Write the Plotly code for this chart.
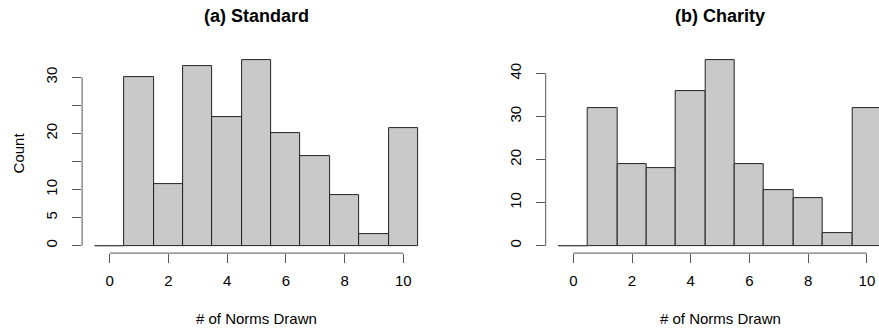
import plotly.graph_objects as go

# ---- data ----
bins = [0, 1, 2, 3, 4, 5, 6, 7, 8, 9, 10]
standard_counts = [0, 30, 11, 32, 23, 33, 20, 16, 9, 2, 21]
charity_counts = [0, 32, 19, 18, 36, 43, 19, 13, 11, 3, 32]
x_ticks = [0, 2, 4, 6, 8, 10]
std_yticks = [0, 5, 10, 15, 20, 25, 30]
std_yticklabels = ["0", "5", "10", "", "20", "", "30"]
cha_yticks = [0, 10, 20, 30, 40]
cha_yticklabels = ["0", "10", "20", "30", "40"]
titles = ["(a) Standard", "(b) Charity"]
xlabel = "# of Norms Drawn"
ylabel = "Count"

W, H = 879, 328
FONT = "Liberation Sans, Arial, Helvetica, sans-serif"
BAR_FILL = "#C9C9C9"
LINE_COL = "#222222"
AXIS_COL = "#555555"

# pixel layout of the two plot regions (R-style)
plot_top, plot_bot = 53.1, 253.1
left_px = [82.1, 430.9]
right_px = [545.7, 894.9]  # extends past the window; clipped


def yfrac(p):
    return 1 - p / H


xr_full = [bins[0] - 0.5 - 0.04 * (len(bins)), bins[-1] + 0.5 + 0.04 * (len(bins))]
ppu = (left_px[1] - left_px[0]) / (xr_full[1] - xr_full[0])

fig = go.Figure()

panels = [
    (standard_counts, std_yticks, std_yticklabels, left_px, "x", "y"),
    (charity_counts, cha_yticks, cha_yticklabels, right_px, "x2", "y2"),
]

shapes = []
annotations = []
for i, (counts, yt, ytl, px, xa, ya) in enumerate(panels):
    fig.add_trace(go.Bar(
        x=bins, y=counts, width=1, xaxis=xa, yaxis=ya,
        marker=dict(color=BAR_FILL, line=dict(color=LINE_COL, width=1)),
        showlegend=False, hoverinfo="skip",
    ))
    # zero-count bins are drawn as flat lines, like R's hist
    for b, c in zip(bins, counts):
        if c == 0:
            fig.add_trace(go.Scatter(
                x=[b - 0.5, b + 0.5], y=[0, 0], mode="lines", xaxis=xa, yaxis=ya,
                line=dict(color=AXIS_COL, width=1), showlegend=False, hoverinfo="skip",
            ))
    ymax = max(counts)
    yr = [-0.04 * ymax, ymax * 1.04]
    x0 = px[0] / W
    x1 = min(px[1], W) / W
    xr_end = xr_full[0] + (min(px[1], W) - px[0]) / ppu
    axkey = "xaxis" if xa == "x" else "xaxis2"
    aykey = "yaxis" if ya == "y" else "yaxis2"
    fig.update_layout(**{
        axkey: dict(
            domain=[x0, x1], range=[xr_full[0], xr_end], anchor=ya,
            tickmode="array", tickvals=x_ticks, ticktext=[str(t) for t in x_ticks],
            ticks="outside", ticklen=9, tickcolor=AXIS_COL, tickwidth=1,
            showline=False, showgrid=False, zeroline=False,
            tickfont=dict(family=FONT, size=15, color="black"),
            ticklabelstandoff=5,
        ),
        aykey: dict(
            domain=[yfrac(plot_bot), yfrac(plot_top)], range=yr, anchor=xa,
            tickmode="array", tickvals=yt, ticktext=ytl,
            ticks="outside", ticklen=9, tickcolor=AXIS_COL, tickwidth=1,
            tickangle=-90,
            showline=False, showgrid=False, zeroline=False,
            tickfont=dict(family=FONT, size=15, color="black"),
            ticklabelstandoff=9,
        ),
    })
    # axis lines spanning first to last tick
    shapes.append(dict(type="line", xref=xa, yref="paper",
                       x0=x_ticks[0], x1=x_ticks[-1],
                       y0=yfrac(plot_bot), y1=yfrac(plot_bot),
                       line=dict(color=AXIS_COL, width=1)))
    shapes.append(dict(type="line", xref="paper", yref=ya,
                       x0=x0, x1=x0, y0=yt[0], y1=yt[-1],
                       line=dict(color=AXIS_COL, width=1)))
    cx = (px[0] + px[1]) / 2 / W
    annotations.append(dict(text="<b>" + titles[i] + "</b>", xref="paper", yref="paper",
                            x=cx, y=yfrac(15.7), xanchor="center", yanchor="middle",
                            showarrow=False, font=dict(family=FONT, size=18, color="black")))
    annotations.append(dict(text=xlabel, xref="paper", yref="paper",
                            x=cx, y=yfrac(318.3), xanchor="center", yanchor="middle",
                            showarrow=False, font=dict(family=FONT, size=15, color="black")))

annotations.append(dict(text=ylabel, xref="paper", yref="paper",
                        x=18.3 / W, y=yfrac((plot_top + plot_bot) / 2),
                        xanchor="center", yanchor="middle", textangle=-90,
                        showarrow=False, font=dict(family=FONT, size=15, color="black")))

fig.update_layout(
    width=W, height=H, margin=dict(l=0, r=0, t=0, b=0),
    paper_bgcolor="white", plot_bgcolor="white",
    bargap=0, shapes=shapes, annotations=annotations,
)

fig.write_html("out.html")
